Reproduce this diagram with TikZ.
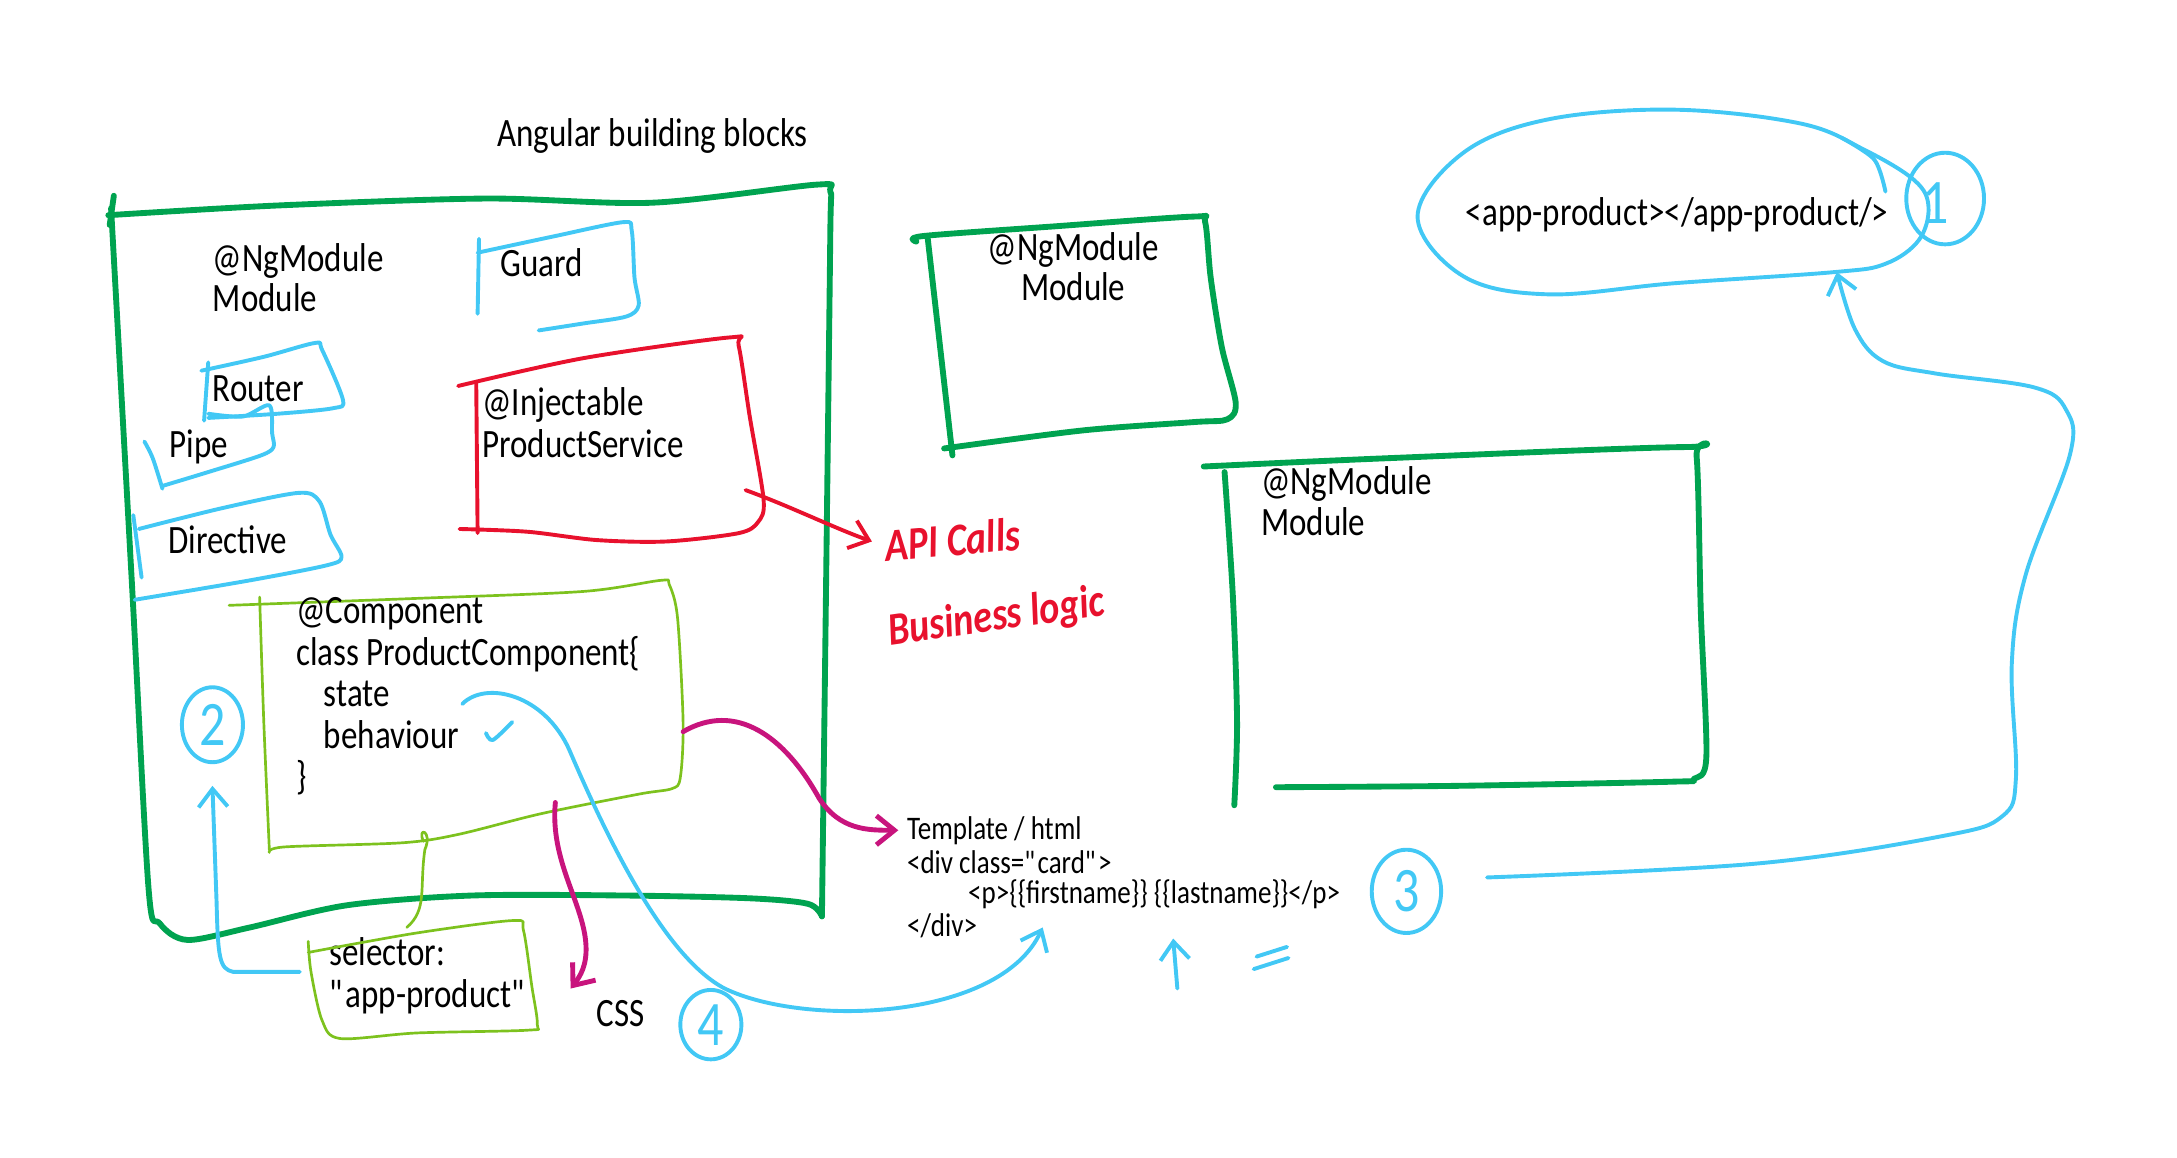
\documentclass[tikz,border=0pt]{standalone}
\usepackage{fontspec}
\setmainfont{Carlito}[FakeStretch=0.82]
\usetikzlibrary{arrows.meta}
\usetikzlibrary{positioning}
\usetikzlibrary{calc}

\definecolor{mgreen}{RGB}{0,163,80}
\definecolor{mcyan}{RGB}{66,200,245}
\definecolor{mred}{RGB}{232,17,45}
\definecolor{mpink}{RGB}{200,20,125}
\definecolor{mlime}{RGB}{125,194,30}

\begin{document}
\begin{tikzpicture}[x=0.02cm,y=-0.02cm,
>={Straight Barb[length=2.6mm,width=4.2mm]},
hand/.style={inner sep=0pt,font=\fontsize{16.5}{17}\selectfont},
code/.style={inner sep=0pt,font=\fontsize{13.5}{13}\selectfont},
numb/.style={inner sep=0pt,text=mcyan,font=\fontsize{26}{26}\selectfont},
scrawl/.style={inner sep=0pt,text=mred,font=\bfseries\itshape\fontsize{19}{19}\selectfont},
modline/.style={draw=mgreen,line width=2.4pt,line cap=round,line join=round},
blueline/.style={draw=mcyan,line width=1.6pt,line cap=round,line join=round},
redline/.style={draw=mred,line width=1.6pt,line cap=round,line join=round},
limeline/.style={draw=mlime,line width=1.1pt,line cap=round,line join=round},
pinkline/.style={draw=mpink,line width=2pt,line cap=round,line join=round}]

\useasboundingbox (0,0) rectangle (1568,834);

% titel
\node[hand] (title) at (470,98) {Angular building blocks};

% grosse modul-box
\draw[modline] (82,141) -- (79,162);
\draw[modline] plot[smooth,tension=0.5] coordinates {(78,155) (200,148) (350,143) (470,146) (588,133) (598,138) (598,170) (595,420) (592,660)};
\draw[modline] plot[smooth,tension=0.5] coordinates {(592,660) (582,651) (540,647) (450,645) (340,645) (250,652) (180,668) (135,677) (115,665) (107,640) (95,420) (80,150)};
\node[hand,anchor=north west,align=left] (ngmod) at (153,175) {@NgModule\\[-0.5pt]Module};

% guard
\node[hand,anchor=west] (guard) at (360,189) {Guard};
\draw[blueline] (345,172) -- (344,226);
\draw[blueline] plot[smooth,tension=0.5] coordinates {(344,182) (400,170) (449,160) (455,166) (457,200) (460,220) (451,228) (420,233) (388,238)};

% router, pipe, directive
\node[hand,anchor=west] (router) at (153,280) {Router};
\draw[blueline] (150,261) -- (147,303);
\draw[blueline] plot[smooth,tension=0.5] coordinates {(145,267) (190,257) (227,247) (232,252) (247,288) (240,294) (200,298) (150,301)};
\node[hand,anchor=west] (pipe) at (122,322) {Pipe};
\draw[blueline] plot[smooth] coordinates {(104,318) (110,330) (117,352)};
\draw[blueline] plot[smooth,tension=0.5] coordinates {(150,298) (175,300) (194,292) (196,312) (197,322) (188,328) (150,340) (117,350)};
\node[hand,anchor=west] (dir) at (121,389) {Directive};
\draw[blueline] (96,371) -- (102,416);
\draw[blueline] plot[smooth,tension=0.5] coordinates {(100,381) (160,366) (215,355) (230,361) (238,385) (246,401) (236,407) (180,418) (97,432)};

% service
\node[hand,anchor=north west,align=left] (svc) at (347,279) {@Injectable\\ProductService};
\draw[redline] (343,275) -- (344,384);
\draw[redline] plot[smooth,tension=0.5] coordinates {(330,278) (420,258) (526,243) (532,249) (540,300) (550,360) (546,376) (532,384) (480,390) (430,389) (380,383) (331,381)};
\node[scrawl,rotate=5,anchor=west] (api) at (637,393) {API Calls};
\node[scrawl,rotate=8,anchor=west] (logic) at (640,456) {Business logic};
\coordinate (svc-out) at (537,353);
\coordinate (api-in) at (628,390);
\draw[redline,->] (svc-out) .. controls (570,365) and (600,380) .. (api-in);

% component
\draw[limeline] plot[smooth] coordinates {(187,430) (190,520) (194,612)};
\draw[limeline] plot[smooth,tension=0.5] coordinates {(165,436) (300,431) (420,426) (476,418) (482,421) (488,445) (492,520) (490,560) (484,568) (460,572) (390,586) (330,601) (290,607) (205,610) (194,614)};
\node[hand,anchor=north west,align=left] (cmp) at (213,430) {@Component\\class ProductComponent\{\\\hspace*{0.4cm}state\\\hspace*{0.4cm}behaviour\\\}};
\draw[blueline] plot[smooth] coordinates {(350,528) (355,533) (369,520)};

% selector
\node[hand,anchor=north west,align=left] (sel) at (237,675) {selector:\\\textquotedbl app-product\textquotedbl};
\draw[limeline] plot[smooth,tension=0.5] coordinates {(222,678) (224,700) (232,735) (245,748) (300,744) (380,742) (387,738) (383,710) (377,670) (370,663) (300,672) (222,686)};
\coordinate (cmp-bot) at (305,606);
\coordinate (sel-top) at (293,668);
\draw[limeline] (cmp-bot) .. controls (300,595) and (312,598) .. (306,612) .. controls (302,640) and (308,655) .. (sel-top);

% nummern
\node[numb] (n2) at (153,522) {2};
\draw[blueline] (n2) ellipse (0.44cm and 0.54cm);
\coordinate (sel-left) at (216,700);
\draw[blueline,->] (sel-left) -- (168,700) .. controls (158,698) and (157,690) .. (156,650) -- ($(n2)+(0,44)$);

% css
\node[hand] (css) at (447,730) {CSS};
\coordinate (cmp-css) at (400,578);
\draw[pinkline,->] (cmp-css) .. controls (396,620) and (420,650) .. (422,680) .. controls (423,695) and (418,703) .. (411,712);
\node[numb] (n4) at (512,738) {4};
\draw[blueline] (n4) ellipse (0.44cm and 0.5cm);

% template
\node[code,anchor=west] (tplhead) at (653,598) {Template / html};
\node[code,anchor=west] (tpldiv) at (653,621) {<div class=\textquotedbl card\textquotedbl>};
\node[code,anchor=west] (tplp) at (697,644) {<p>\{\{firstname\}\} \{\{lastname\}\}</p>};
\node[code,anchor=west] (tplend) at (653,667) {</div>};
\coordinate (cmp-out) at (492,527);
\draw[pinkline,->] (cmp-out) .. controls (530,505) and (565,530) .. (590,575) .. controls (605,598) and (625,598) .. ($(tplhead.west)+(-6,0)$);
\coordinate (state-out) at (333,507);
\coordinate (div-in) at (751,668);
\draw[blueline,->] (state-out) .. controls (350,490) and (392,500) .. (410,540) .. controls (440,610) and (480,690) .. (522,712) .. controls (580,740) and (720,735) .. (div-in);
\coordinate (mark-a) at (848,712);
\draw[blueline,->] (mark-a) -- (845,676);
\draw[blueline] (905,689) -- (927,682);
\draw[blueline] (903,698) -- (928,690);

\node[numb] (n3) at (1013,642) {3};
\draw[blueline] (n3) ellipse (0.5cm and 0.6cm);

% app-product
\node[hand] (tag) at (1208,155) {<app-product></app-product/>};
\draw[blueline] plot[smooth cycle,tension=0.6] coordinates {(1206,79) (1297,89) (1343,108) (1379,130) (1389,149) (1382,173) (1358,190) (1321,196) (1206,204) (1115,212) (1054,199) (1021,156) (1054,110) (1115,86)};
\draw[blueline] plot[smooth] coordinates {(1326,99) (1350,115) (1358,138)};
\node[numb] (n1) at (1394,146) {1};
\draw[blueline] (1401,143) ellipse (0.56cm and 0.66cm);
\coordinate (n3-out) at (1071,632);
\draw[blueline,->] plot[smooth,tension=0.6] coordinates {(1071,632) (1265,622) (1400,602) (1442,588) (1452,560) (1449,478) (1459,414) (1491,327) (1488,295) (1465,279) (1394,269) (1356,260) (1336,237) (1323,196)};

% weitere module
\node[hand,anchor=north,align=center] (mod2) at (773,167) {@NgModule\\[-0.5pt]Module};
\draw[modline] plot[smooth,tension=0.5] coordinates {(660,174) (665,170) (760,163) (860,156) (868,160) (872,200) (880,250) (890,290) (884,302) (860,304) (780,310) (680,323)};
\draw[modline] (668,170) -- (686,328);
\node[hand,anchor=north west,align=left] (mod3) at (908,336) {@NgModule\\[-0.5pt]Module};
\draw[modline] plot[smooth,tension=0.5] coordinates {(867,336) (1000,330) (1214,322) (1222,329) (1225,440) (1229,545) (1220,561) (1205,563) (1050,566) (919,567)};
\draw[modline] plot[smooth] coordinates {(882,340) (888,430) (891,520) (889,580)};
\end{tikzpicture}
\end{document}
